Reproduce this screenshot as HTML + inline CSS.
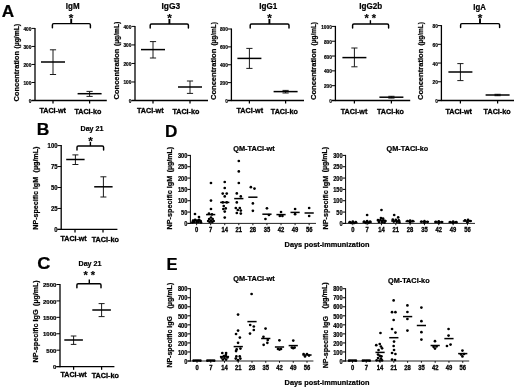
<!DOCTYPE html>
<html><head><meta charset="utf-8"><title>Figure</title>
<style>html,body{margin:0;padding:0;background:#fff}svg{display:block;filter:blur(0.3px)}</style></head><body>
<svg width="520" height="391" viewBox="0 0 520 391" font-family="Liberation Sans, Arial, sans-serif">
<rect width="520" height="391" fill="#fff"/>
<text x="1.8" y="16.6" font-size="16.5" font-weight="bold" text-anchor="start" fill="#000" textLength="12.4" lengthAdjust="spacingAndGlyphs" stroke="#000" stroke-width="0.22">A</text>
<text x="36.8" y="134.6" font-size="16.5" font-weight="bold" text-anchor="start" fill="#000" textLength="12.6" lengthAdjust="spacingAndGlyphs" stroke="#000" stroke-width="0.22">B</text>
<text x="37.2" y="269.4" font-size="16.5" font-weight="bold" text-anchor="start" fill="#000" textLength="13.2" lengthAdjust="spacingAndGlyphs" stroke="#000" stroke-width="0.22">C</text>
<text x="165" y="137" font-size="16.5" font-weight="bold" text-anchor="start" fill="#000" textLength="12.4" lengthAdjust="spacingAndGlyphs" stroke="#000" stroke-width="0.22">D</text>
<text x="166.6" y="269.6" font-size="16.5" font-weight="bold" text-anchor="start" fill="#000" stroke="#000" stroke-width="0.22">E</text>
<line x1="35" y1="27.9" x2="35" y2="101.1" stroke="#000" stroke-width="1.3"/>
<line x1="31.5" y1="100.5" x2="106.8" y2="100.5" stroke="#000" stroke-width="1.3"/>
<line x1="31.5" y1="100.5" x2="35" y2="100.5" stroke="#000" stroke-width="1.0"/>
<text x="31.4" y="102.99" font-size="5.8" font-weight="bold" text-anchor="end" fill="#000" textLength="2.64" lengthAdjust="spacingAndGlyphs" stroke="#000" stroke-width="0.22">0</text>
<line x1="31.5" y1="82.475" x2="35" y2="82.475" stroke="#000" stroke-width="1.0"/>
<text x="31.4" y="84.96" font-size="5.8" font-weight="bold" text-anchor="end" fill="#000" textLength="7.92" lengthAdjust="spacingAndGlyphs" stroke="#000" stroke-width="0.22">100</text>
<line x1="31.5" y1="64.45" x2="35" y2="64.45" stroke="#000" stroke-width="1.0"/>
<text x="31.4" y="66.94" font-size="5.8" font-weight="bold" text-anchor="end" fill="#000" textLength="7.92" lengthAdjust="spacingAndGlyphs" stroke="#000" stroke-width="0.22">200</text>
<line x1="31.5" y1="46.425000000000004" x2="35" y2="46.425000000000004" stroke="#000" stroke-width="1.0"/>
<text x="31.4" y="48.91" font-size="5.8" font-weight="bold" text-anchor="end" fill="#000" textLength="7.92" lengthAdjust="spacingAndGlyphs" stroke="#000" stroke-width="0.22">300</text>
<line x1="31.5" y1="28.400000000000006" x2="35" y2="28.400000000000006" stroke="#000" stroke-width="1.0"/>
<text x="31.4" y="30.89" font-size="5.8" font-weight="bold" text-anchor="end" fill="#000" textLength="7.92" lengthAdjust="spacingAndGlyphs" stroke="#000" stroke-width="0.22">400</text>
<line x1="53" y1="100.5" x2="53" y2="103.5" stroke="#000" stroke-width="1.25"/>
<line x1="89.6" y1="100.5" x2="89.6" y2="103.5" stroke="#000" stroke-width="1.25"/>
<text x="72.7" y="8.8" font-size="8.6" font-weight="bold" text-anchor="middle" fill="#000" textLength="13.7" lengthAdjust="spacingAndGlyphs" stroke="#000" stroke-width="0.22">IgM</text>
<text x="71" y="22.4" font-size="11.8" font-weight="bold" text-anchor="middle" fill="#000" stroke="#000" stroke-width="0.15">*</text>
<path d="M52.4 27.8V24.9Q52.4 23.6 53.7 23.6H89.1Q90.4 23.6 90.4 24.9V27.8" fill="none" stroke="#000" stroke-width="1.45" stroke-linecap="round"/>
<path d="M71.2 23.6V18.8" fill="none" stroke="#000" stroke-width="1.9"/>
<line x1="53" y1="49.8" x2="53" y2="74.5" stroke="#1a1a1a" stroke-width="1.0"/>
<line x1="49.9" y1="49.8" x2="56.1" y2="49.8" stroke="#1a1a1a" stroke-width="1.0"/>
<line x1="49.9" y1="74.5" x2="56.1" y2="74.5" stroke="#1a1a1a" stroke-width="1.0"/>
<line x1="41" y1="62" x2="65" y2="62" stroke="#000" stroke-width="1.5"/>
<line x1="89.6" y1="91.4" x2="89.6" y2="96.4" stroke="#1a1a1a" stroke-width="1.0"/>
<line x1="86.5" y1="91.4" x2="92.69999999999999" y2="91.4" stroke="#1a1a1a" stroke-width="1.0"/>
<line x1="86.5" y1="96.4" x2="92.69999999999999" y2="96.4" stroke="#1a1a1a" stroke-width="1.0"/>
<line x1="77.6" y1="93.7" x2="101.6" y2="93.7" stroke="#000" stroke-width="1.5"/>
<text transform="translate(19.2 76.2) rotate(-90)" font-size="7" font-weight="bold" text-anchor="middle" stroke="#000" stroke-width="0.22" textLength="50.5" lengthAdjust="spacingAndGlyphs">Concentration</text>
<text transform="translate(19.0 36.2) rotate(-90)" font-size="6.7" font-weight="bold" text-anchor="middle" stroke="#000" stroke-width="0.22" textLength="24.5" lengthAdjust="spacingAndGlyphs">(µg/mL)</text>
<text x="52.7" y="112.6" font-size="7" font-weight="bold" text-anchor="middle" fill="#000" textLength="26.6" lengthAdjust="spacingAndGlyphs" stroke="#000" stroke-width="0.3">TACI-wt</text>
<text x="87.9" y="113.6" font-size="7" font-weight="bold" text-anchor="middle" fill="#000" textLength="27" lengthAdjust="spacingAndGlyphs" stroke="#000" stroke-width="0.3">TACI-ko</text>
<line x1="135" y1="25.9" x2="135" y2="101.1" stroke="#000" stroke-width="1.3"/>
<line x1="131.5" y1="100.5" x2="208" y2="100.5" stroke="#000" stroke-width="1.3"/>
<line x1="131.5" y1="100.5" x2="135" y2="100.5" stroke="#000" stroke-width="1.0"/>
<text x="131.4" y="102.99" font-size="5.8" font-weight="bold" text-anchor="end" fill="#000" textLength="2.64" lengthAdjust="spacingAndGlyphs" stroke="#000" stroke-width="0.22">0</text>
<line x1="131.5" y1="81.975" x2="135" y2="81.975" stroke="#000" stroke-width="1.0"/>
<text x="131.4" y="84.46" font-size="5.8" font-weight="bold" text-anchor="end" fill="#000" textLength="7.92" lengthAdjust="spacingAndGlyphs" stroke="#000" stroke-width="0.22">100</text>
<line x1="131.5" y1="63.45" x2="135" y2="63.45" stroke="#000" stroke-width="1.0"/>
<text x="131.4" y="65.94" font-size="5.8" font-weight="bold" text-anchor="end" fill="#000" textLength="7.92" lengthAdjust="spacingAndGlyphs" stroke="#000" stroke-width="0.22">200</text>
<line x1="131.5" y1="44.925000000000004" x2="135" y2="44.925000000000004" stroke="#000" stroke-width="1.0"/>
<text x="131.4" y="47.41" font-size="5.8" font-weight="bold" text-anchor="end" fill="#000" textLength="7.92" lengthAdjust="spacingAndGlyphs" stroke="#000" stroke-width="0.22">300</text>
<line x1="131.5" y1="26.400000000000006" x2="135" y2="26.400000000000006" stroke="#000" stroke-width="1.0"/>
<text x="131.4" y="28.89" font-size="5.8" font-weight="bold" text-anchor="end" fill="#000" textLength="7.92" lengthAdjust="spacingAndGlyphs" stroke="#000" stroke-width="0.22">400</text>
<line x1="153" y1="100.5" x2="153" y2="103.5" stroke="#000" stroke-width="1.25"/>
<line x1="190" y1="100.5" x2="190" y2="103.5" stroke="#000" stroke-width="1.25"/>
<text x="170.8" y="8.8" font-size="8.6" font-weight="bold" text-anchor="middle" fill="#000" textLength="18.7" lengthAdjust="spacingAndGlyphs" stroke="#000" stroke-width="0.22">IgG3</text>
<text x="169.6" y="22.4" font-size="11.8" font-weight="bold" text-anchor="middle" fill="#000" stroke="#000" stroke-width="0.15">*</text>
<path d="M150.2 28V25.3Q150.2 24 151.5 24H187.1Q188.4 24 188.4 25.3V28" fill="none" stroke="#000" stroke-width="1.45" stroke-linecap="round"/>
<path d="M169.4 24V19" fill="none" stroke="#000" stroke-width="1.9"/>
<line x1="153" y1="41.6" x2="153" y2="58" stroke="#1a1a1a" stroke-width="1.0"/>
<line x1="149.9" y1="41.6" x2="156.1" y2="41.6" stroke="#1a1a1a" stroke-width="1.0"/>
<line x1="149.9" y1="58" x2="156.1" y2="58" stroke="#1a1a1a" stroke-width="1.0"/>
<line x1="141" y1="49.6" x2="165" y2="49.6" stroke="#000" stroke-width="1.5"/>
<line x1="190" y1="81" x2="190" y2="93.4" stroke="#1a1a1a" stroke-width="1.0"/>
<line x1="186.9" y1="81" x2="193.1" y2="81" stroke="#1a1a1a" stroke-width="1.0"/>
<line x1="186.9" y1="93.4" x2="193.1" y2="93.4" stroke="#1a1a1a" stroke-width="1.0"/>
<line x1="178" y1="87" x2="202" y2="87" stroke="#000" stroke-width="1.5"/>
<text transform="translate(118.8 74.0) rotate(-90)" font-size="7" font-weight="bold" text-anchor="middle" stroke="#000" stroke-width="0.22" textLength="50.8" lengthAdjust="spacingAndGlyphs">Concentration</text>
<text transform="translate(118.6 33.9) rotate(-90)" font-size="6.7" font-weight="bold" text-anchor="middle" stroke="#000" stroke-width="0.22" textLength="24.2" lengthAdjust="spacingAndGlyphs">(µg/mL)</text>
<text x="150.3" y="112.6" font-size="7" font-weight="bold" text-anchor="middle" fill="#000" textLength="26.6" lengthAdjust="spacingAndGlyphs" stroke="#000" stroke-width="0.3">TACI-wt</text>
<text x="185.9" y="113.6" font-size="7" font-weight="bold" text-anchor="middle" fill="#000" textLength="27" lengthAdjust="spacingAndGlyphs" stroke="#000" stroke-width="0.3">TACI-ko</text>
<line x1="231.4" y1="28.5" x2="231.4" y2="101.1" stroke="#000" stroke-width="1.3"/>
<line x1="227.9" y1="100.5" x2="304" y2="100.5" stroke="#000" stroke-width="1.3"/>
<line x1="227.9" y1="100.5" x2="231.4" y2="100.5" stroke="#000" stroke-width="1.0"/>
<text x="227.8" y="102.99" font-size="5.8" font-weight="bold" text-anchor="end" fill="#000" textLength="2.64" lengthAdjust="spacingAndGlyphs" stroke="#000" stroke-width="0.22">0</text>
<line x1="227.9" y1="82.625" x2="231.4" y2="82.625" stroke="#000" stroke-width="1.0"/>
<text x="227.8" y="85.11" font-size="5.8" font-weight="bold" text-anchor="end" fill="#000" textLength="7.92" lengthAdjust="spacingAndGlyphs" stroke="#000" stroke-width="0.22">200</text>
<line x1="227.9" y1="64.75" x2="231.4" y2="64.75" stroke="#000" stroke-width="1.0"/>
<text x="227.8" y="67.24" font-size="5.8" font-weight="bold" text-anchor="end" fill="#000" textLength="7.92" lengthAdjust="spacingAndGlyphs" stroke="#000" stroke-width="0.22">400</text>
<line x1="227.9" y1="46.875" x2="231.4" y2="46.875" stroke="#000" stroke-width="1.0"/>
<text x="227.8" y="49.36" font-size="5.8" font-weight="bold" text-anchor="end" fill="#000" textLength="7.92" lengthAdjust="spacingAndGlyphs" stroke="#000" stroke-width="0.22">600</text>
<line x1="227.9" y1="29.0" x2="231.4" y2="29.0" stroke="#000" stroke-width="1.0"/>
<text x="227.8" y="31.49" font-size="5.8" font-weight="bold" text-anchor="end" fill="#000" textLength="7.92" lengthAdjust="spacingAndGlyphs" stroke="#000" stroke-width="0.22">800</text>
<line x1="249.4" y1="100.5" x2="249.4" y2="103.5" stroke="#000" stroke-width="1.25"/>
<line x1="285.6" y1="100.5" x2="285.6" y2="103.5" stroke="#000" stroke-width="1.25"/>
<text x="268.2" y="8.8" font-size="8.6" font-weight="bold" text-anchor="middle" fill="#000" textLength="17.9" lengthAdjust="spacingAndGlyphs" stroke="#000" stroke-width="0.22">IgG1</text>
<text x="269.6" y="22.4" font-size="11.8" font-weight="bold" text-anchor="middle" fill="#000" stroke="#000" stroke-width="0.15">*</text>
<path d="M250.2 28V25.3Q250.2 24 251.5 24H287.7Q289 24 289 25.3V28" fill="none" stroke="#000" stroke-width="1.45" stroke-linecap="round"/>
<path d="M269.4 24V19" fill="none" stroke="#000" stroke-width="1.9"/>
<line x1="249.4" y1="48.4" x2="249.4" y2="68.4" stroke="#1a1a1a" stroke-width="1.0"/>
<line x1="246.3" y1="48.4" x2="252.5" y2="48.4" stroke="#1a1a1a" stroke-width="1.0"/>
<line x1="246.3" y1="68.4" x2="252.5" y2="68.4" stroke="#1a1a1a" stroke-width="1.0"/>
<line x1="237.4" y1="58.4" x2="261.4" y2="58.4" stroke="#000" stroke-width="1.5"/>
<line x1="285.6" y1="90.4" x2="285.6" y2="93" stroke="#1a1a1a" stroke-width="1.0"/>
<line x1="282.5" y1="90.4" x2="288.70000000000005" y2="90.4" stroke="#1a1a1a" stroke-width="1.0"/>
<line x1="282.5" y1="93" x2="288.70000000000005" y2="93" stroke="#1a1a1a" stroke-width="1.0"/>
<line x1="273.6" y1="91.6" x2="297.6" y2="91.6" stroke="#000" stroke-width="1.5"/>
<text transform="translate(215.8 74.4) rotate(-90)" font-size="7" font-weight="bold" text-anchor="middle" stroke="#000" stroke-width="0.22" textLength="51.4" lengthAdjust="spacingAndGlyphs">Concentration</text>
<text transform="translate(215.60000000000002 33.8) rotate(-90)" font-size="6.7" font-weight="bold" text-anchor="middle" stroke="#000" stroke-width="0.22" textLength="23.6" lengthAdjust="spacingAndGlyphs">(µg/mL)</text>
<text x="249.8" y="112.6" font-size="7" font-weight="bold" text-anchor="middle" fill="#000" textLength="26.6" lengthAdjust="spacingAndGlyphs" stroke="#000" stroke-width="0.3">TACI-wt</text>
<text x="284.3" y="113.6" font-size="7" font-weight="bold" text-anchor="middle" fill="#000" textLength="27" lengthAdjust="spacingAndGlyphs" stroke="#000" stroke-width="0.3">TACI-ko</text>
<line x1="335.4" y1="25.9" x2="335.4" y2="101.1" stroke="#000" stroke-width="1.3"/>
<line x1="331.9" y1="100.5" x2="410.2" y2="100.5" stroke="#000" stroke-width="1.3"/>
<line x1="331.9" y1="100.5" x2="335.4" y2="100.5" stroke="#000" stroke-width="1.0"/>
<text x="331.79999999999995" y="102.99" font-size="5.8" font-weight="bold" text-anchor="end" fill="#000" textLength="2.64" lengthAdjust="spacingAndGlyphs" stroke="#000" stroke-width="0.22">0</text>
<line x1="331.9" y1="85.68" x2="335.4" y2="85.68" stroke="#000" stroke-width="1.0"/>
<text x="331.79999999999995" y="88.17" font-size="5.8" font-weight="bold" text-anchor="end" fill="#000" textLength="7.92" lengthAdjust="spacingAndGlyphs" stroke="#000" stroke-width="0.22">200</text>
<line x1="331.9" y1="70.86" x2="335.4" y2="70.86" stroke="#000" stroke-width="1.0"/>
<text x="331.79999999999995" y="73.35" font-size="5.8" font-weight="bold" text-anchor="end" fill="#000" textLength="7.92" lengthAdjust="spacingAndGlyphs" stroke="#000" stroke-width="0.22">400</text>
<line x1="331.9" y1="56.040000000000006" x2="335.4" y2="56.040000000000006" stroke="#000" stroke-width="1.0"/>
<text x="331.79999999999995" y="58.53" font-size="5.8" font-weight="bold" text-anchor="end" fill="#000" textLength="7.92" lengthAdjust="spacingAndGlyphs" stroke="#000" stroke-width="0.22">600</text>
<line x1="331.9" y1="41.220000000000006" x2="335.4" y2="41.220000000000006" stroke="#000" stroke-width="1.0"/>
<text x="331.79999999999995" y="43.71" font-size="5.8" font-weight="bold" text-anchor="end" fill="#000" textLength="7.92" lengthAdjust="spacingAndGlyphs" stroke="#000" stroke-width="0.22">800</text>
<line x1="331.9" y1="26.400000000000006" x2="335.4" y2="26.400000000000006" stroke="#000" stroke-width="1.0"/>
<text x="331.79999999999995" y="28.89" font-size="5.8" font-weight="bold" text-anchor="end" fill="#000" textLength="10.56" lengthAdjust="spacingAndGlyphs" stroke="#000" stroke-width="0.22">1000</text>
<line x1="354.4" y1="100.5" x2="354.4" y2="103.5" stroke="#000" stroke-width="1.25"/>
<line x1="391.4" y1="100.5" x2="391.4" y2="103.5" stroke="#000" stroke-width="1.25"/>
<text x="370.7" y="8.8" font-size="8.6" font-weight="bold" text-anchor="middle" fill="#000" textLength="22.9" lengthAdjust="spacingAndGlyphs" stroke="#000" stroke-width="0.22">IgG2b</text>
<text x="366.7" y="21.5" font-size="11" font-weight="bold" text-anchor="middle" fill="#000" stroke="#000" stroke-width="0.15">*</text>
<text x="373.9" y="21.5" font-size="11" font-weight="bold" text-anchor="middle" fill="#000" stroke="#000" stroke-width="0.15">*</text>
<path d="M352.6 28V25.3Q352.6 24 353.9 24H387.3Q388.6 24 388.6 25.3V28" fill="none" stroke="#000" stroke-width="1.45" stroke-linecap="round"/>
<path d="M370.4 24V20.2" fill="none" stroke="#000" stroke-width="1.4"/>
<line x1="354.4" y1="48" x2="354.4" y2="66.8" stroke="#1a1a1a" stroke-width="1.0"/>
<line x1="351.29999999999995" y1="48" x2="357.5" y2="48" stroke="#1a1a1a" stroke-width="1.0"/>
<line x1="351.29999999999995" y1="66.8" x2="357.5" y2="66.8" stroke="#1a1a1a" stroke-width="1.0"/>
<line x1="342.4" y1="57.6" x2="366.4" y2="57.6" stroke="#000" stroke-width="1.5"/>
<line x1="391.4" y1="96.3" x2="391.4" y2="98.1" stroke="#1a1a1a" stroke-width="1.0"/>
<line x1="388.29999999999995" y1="96.3" x2="394.5" y2="96.3" stroke="#1a1a1a" stroke-width="1.0"/>
<line x1="388.29999999999995" y1="98.1" x2="394.5" y2="98.1" stroke="#1a1a1a" stroke-width="1.0"/>
<line x1="379.4" y1="97.2" x2="403.4" y2="97.2" stroke="#000" stroke-width="1.5"/>
<text transform="translate(316 74.3) rotate(-90)" font-size="7" font-weight="bold" text-anchor="middle" stroke="#000" stroke-width="0.22" textLength="51.6" lengthAdjust="spacingAndGlyphs">Concentration</text>
<text transform="translate(315.8 33.7) rotate(-90)" font-size="6.7" font-weight="bold" text-anchor="middle" stroke="#000" stroke-width="0.22" textLength="23.4" lengthAdjust="spacingAndGlyphs">(µg/mL)</text>
<text x="354" y="113.6" font-size="7" font-weight="bold" text-anchor="middle" fill="#000" textLength="26.6" lengthAdjust="spacingAndGlyphs" stroke="#000" stroke-width="0.3">TACI-wt</text>
<text x="390.5" y="113.6" font-size="7" font-weight="bold" text-anchor="middle" fill="#000" textLength="27" lengthAdjust="spacingAndGlyphs" stroke="#000" stroke-width="0.3">TACI-ko</text>
<line x1="441.4" y1="25.1" x2="441.4" y2="101.1" stroke="#000" stroke-width="1.3"/>
<line x1="437.9" y1="100.5" x2="514" y2="100.5" stroke="#000" stroke-width="1.3"/>
<line x1="437.9" y1="100.5" x2="441.4" y2="100.5" stroke="#000" stroke-width="1.0"/>
<text x="437.79999999999995" y="102.99" font-size="5.8" font-weight="bold" text-anchor="end" fill="#000" textLength="2.64" lengthAdjust="spacingAndGlyphs" stroke="#000" stroke-width="0.22">0</text>
<line x1="437.9" y1="81.775" x2="441.4" y2="81.775" stroke="#000" stroke-width="1.0"/>
<text x="437.79999999999995" y="84.26" font-size="5.8" font-weight="bold" text-anchor="end" fill="#000" textLength="5.28" lengthAdjust="spacingAndGlyphs" stroke="#000" stroke-width="0.22">20</text>
<line x1="437.9" y1="63.05" x2="441.4" y2="63.05" stroke="#000" stroke-width="1.0"/>
<text x="437.79999999999995" y="65.54" font-size="5.8" font-weight="bold" text-anchor="end" fill="#000" textLength="5.28" lengthAdjust="spacingAndGlyphs" stroke="#000" stroke-width="0.22">40</text>
<line x1="437.9" y1="44.324999999999996" x2="441.4" y2="44.324999999999996" stroke="#000" stroke-width="1.0"/>
<text x="437.79999999999995" y="46.81" font-size="5.8" font-weight="bold" text-anchor="end" fill="#000" textLength="5.28" lengthAdjust="spacingAndGlyphs" stroke="#000" stroke-width="0.22">60</text>
<line x1="437.9" y1="25.599999999999994" x2="441.4" y2="25.599999999999994" stroke="#000" stroke-width="1.0"/>
<text x="437.79999999999995" y="28.09" font-size="5.8" font-weight="bold" text-anchor="end" fill="#000" textLength="5.28" lengthAdjust="spacingAndGlyphs" stroke="#000" stroke-width="0.22">80</text>
<line x1="460.4" y1="100.5" x2="460.4" y2="103.5" stroke="#000" stroke-width="1.25"/>
<line x1="497.6" y1="100.5" x2="497.6" y2="103.5" stroke="#000" stroke-width="1.25"/>
<text x="479.5" y="9.8" font-size="8.6" font-weight="bold" text-anchor="middle" fill="#000" textLength="12.5" lengthAdjust="spacingAndGlyphs" stroke="#000" stroke-width="0.22">IgA</text>
<text x="480" y="22.0" font-size="11.8" font-weight="bold" text-anchor="middle" fill="#000" stroke="#000" stroke-width="0.15">*</text>
<path d="M460.6 27.6V24.9Q460.6 23.6 461.9 23.6H498.3Q499.6 23.6 499.6 24.9V27.6" fill="none" stroke="#000" stroke-width="1.45" stroke-linecap="round"/>
<path d="M480 23.6V18.6" fill="none" stroke="#000" stroke-width="1.9"/>
<line x1="460.4" y1="63.6" x2="460.4" y2="80.6" stroke="#1a1a1a" stroke-width="1.0"/>
<line x1="457.29999999999995" y1="63.6" x2="463.5" y2="63.6" stroke="#1a1a1a" stroke-width="1.0"/>
<line x1="457.29999999999995" y1="80.6" x2="463.5" y2="80.6" stroke="#1a1a1a" stroke-width="1.0"/>
<line x1="448.4" y1="72" x2="472.4" y2="72" stroke="#000" stroke-width="1.5"/>
<line x1="497.6" y1="94.3" x2="497.6" y2="95.7" stroke="#1a1a1a" stroke-width="1.0"/>
<line x1="494.5" y1="94.3" x2="500.70000000000005" y2="94.3" stroke="#1a1a1a" stroke-width="1.0"/>
<line x1="494.5" y1="95.7" x2="500.70000000000005" y2="95.7" stroke="#1a1a1a" stroke-width="1.0"/>
<line x1="485.6" y1="95" x2="509.6" y2="95" stroke="#000" stroke-width="1.5"/>
<text transform="translate(422.8 74.4) rotate(-90)" font-size="7" font-weight="bold" text-anchor="middle" stroke="#000" stroke-width="0.22" textLength="51.4" lengthAdjust="spacingAndGlyphs">Concentration</text>
<text transform="translate(422.6 33.8) rotate(-90)" font-size="6.7" font-weight="bold" text-anchor="middle" stroke="#000" stroke-width="0.22" textLength="23.6" lengthAdjust="spacingAndGlyphs">(µg/mL)</text>
<text x="458.7" y="113.6" font-size="7" font-weight="bold" text-anchor="middle" fill="#000" textLength="26.6" lengthAdjust="spacingAndGlyphs" stroke="#000" stroke-width="0.3">TACI-wt</text>
<text x="497.1" y="113.6" font-size="7" font-weight="bold" text-anchor="middle" fill="#000" textLength="27" lengthAdjust="spacingAndGlyphs" stroke="#000" stroke-width="0.3">TACI-ko</text>
<line x1="61.2" y1="145.1" x2="61.2" y2="230.0" stroke="#000" stroke-width="1.3"/>
<line x1="57.5" y1="229.4" x2="117.4" y2="229.4" stroke="#000" stroke-width="1.3"/>
<line x1="57.5" y1="229.4" x2="61.2" y2="229.4" stroke="#000" stroke-width="1.0"/>
<text x="57.5" y="232.14" font-size="6.5" font-weight="bold" text-anchor="end" fill="#000" textLength="3.3" lengthAdjust="spacingAndGlyphs" stroke="#000" stroke-width="0.22">0</text>
<line x1="57.5" y1="208.45" x2="61.2" y2="208.45" stroke="#000" stroke-width="1.0"/>
<text x="57.5" y="211.19" font-size="6.5" font-weight="bold" text-anchor="end" fill="#000" textLength="6.6" lengthAdjust="spacingAndGlyphs" stroke="#000" stroke-width="0.22">25</text>
<line x1="57.5" y1="187.5" x2="61.2" y2="187.5" stroke="#000" stroke-width="1.0"/>
<text x="57.5" y="190.24" font-size="6.5" font-weight="bold" text-anchor="end" fill="#000" textLength="6.6" lengthAdjust="spacingAndGlyphs" stroke="#000" stroke-width="0.22">50</text>
<line x1="57.5" y1="166.55" x2="61.2" y2="166.55" stroke="#000" stroke-width="1.0"/>
<text x="57.5" y="169.29" font-size="6.5" font-weight="bold" text-anchor="end" fill="#000" textLength="6.6" lengthAdjust="spacingAndGlyphs" stroke="#000" stroke-width="0.22">75</text>
<line x1="57.5" y1="145.6" x2="61.2" y2="145.6" stroke="#000" stroke-width="1.0"/>
<text x="57.5" y="148.34" font-size="6.5" font-weight="bold" text-anchor="end" fill="#000" textLength="9.9" lengthAdjust="spacingAndGlyphs" stroke="#000" stroke-width="0.22">100</text>
<line x1="75" y1="229.4" x2="75" y2="232.6" stroke="#000" stroke-width="1.25"/>
<line x1="103" y1="229.4" x2="103" y2="232.6" stroke="#000" stroke-width="1.25"/>
<text x="92" y="130.7" font-size="7.7" font-weight="bold" text-anchor="middle" fill="#000" textLength="23" lengthAdjust="spacingAndGlyphs" stroke="#000" stroke-width="0.22">Day 21</text>
<text x="90.5" y="144.5" font-size="11.8" font-weight="bold" text-anchor="middle" fill="#000" stroke="#000" stroke-width="0.15">*</text>
<path d="M77 150V147.3Q77 146 78.3 146H102.3Q103.6 146 103.6 147.3V150" fill="none" stroke="#000" stroke-width="1.45" stroke-linecap="round"/>
<path d="M90.4 146V141.8" fill="none" stroke="#000" stroke-width="1.4"/>
<line x1="75.4" y1="154.9" x2="75.4" y2="164.5" stroke="#1a1a1a" stroke-width="1.0"/>
<line x1="72.4" y1="154.9" x2="78.4" y2="154.9" stroke="#1a1a1a" stroke-width="1.0"/>
<line x1="72.4" y1="164.5" x2="78.4" y2="164.5" stroke="#1a1a1a" stroke-width="1.0"/>
<line x1="66.2" y1="159.5" x2="84.60000000000001" y2="159.5" stroke="#000" stroke-width="1.5"/>
<line x1="103.4" y1="176.8" x2="103.4" y2="197" stroke="#1a1a1a" stroke-width="1.0"/>
<line x1="100.4" y1="176.8" x2="106.4" y2="176.8" stroke="#1a1a1a" stroke-width="1.0"/>
<line x1="100.4" y1="197" x2="106.4" y2="197" stroke="#1a1a1a" stroke-width="1.0"/>
<line x1="94.2" y1="186.8" x2="112.60000000000001" y2="186.8" stroke="#000" stroke-width="1.5"/>
<text transform="translate(38.3 203.3) rotate(-90)" font-size="7" font-weight="bold" text-anchor="middle" stroke="#000" stroke-width="0.22" textLength="52.8" lengthAdjust="spacingAndGlyphs">NP-specific IgM</text>
<text transform="translate(38.1 159.5) rotate(-90)" font-size="6.7" font-weight="bold" text-anchor="middle" stroke="#000" stroke-width="0.22" textLength="26" lengthAdjust="spacingAndGlyphs">(µg/mL)</text>
<text x="73.6" y="241" font-size="7" font-weight="bold" text-anchor="middle" fill="#000" textLength="26.3" lengthAdjust="spacingAndGlyphs" stroke="#000" stroke-width="0.3">TACI-wt</text>
<text x="105.3" y="241.6" font-size="7" font-weight="bold" text-anchor="middle" fill="#000" textLength="27.2" lengthAdjust="spacingAndGlyphs" stroke="#000" stroke-width="0.3">TACI-ko</text>
<line x1="60" y1="284.0" x2="60" y2="367.20000000000005" stroke="#000" stroke-width="1.3"/>
<line x1="56.4" y1="366.6" x2="114.4" y2="366.6" stroke="#000" stroke-width="1.3"/>
<line x1="56.4" y1="366.6" x2="60" y2="366.6" stroke="#000" stroke-width="1.0"/>
<text x="56.4" y="369.23" font-size="6.2" font-weight="bold" text-anchor="end" fill="#000" textLength="3.35" lengthAdjust="spacingAndGlyphs" stroke="#000" stroke-width="0.22">0</text>
<line x1="56.4" y1="350.18" x2="60" y2="350.18" stroke="#000" stroke-width="1.0"/>
<text x="56.4" y="352.81" font-size="6.2" font-weight="bold" text-anchor="end" fill="#000" textLength="10.05" lengthAdjust="spacingAndGlyphs" stroke="#000" stroke-width="0.22">500</text>
<line x1="56.4" y1="333.76" x2="60" y2="333.76" stroke="#000" stroke-width="1.0"/>
<text x="56.4" y="336.39" font-size="6.2" font-weight="bold" text-anchor="end" fill="#000" textLength="13.4" lengthAdjust="spacingAndGlyphs" stroke="#000" stroke-width="0.22">1000</text>
<line x1="56.4" y1="317.34000000000003" x2="60" y2="317.34000000000003" stroke="#000" stroke-width="1.0"/>
<text x="56.4" y="319.97" font-size="6.2" font-weight="bold" text-anchor="end" fill="#000" textLength="13.4" lengthAdjust="spacingAndGlyphs" stroke="#000" stroke-width="0.22">1500</text>
<line x1="56.4" y1="300.92" x2="60" y2="300.92" stroke="#000" stroke-width="1.0"/>
<text x="56.4" y="303.55" font-size="6.2" font-weight="bold" text-anchor="end" fill="#000" textLength="13.4" lengthAdjust="spacingAndGlyphs" stroke="#000" stroke-width="0.22">2000</text>
<line x1="56.4" y1="284.5" x2="60" y2="284.5" stroke="#000" stroke-width="1.0"/>
<text x="56.4" y="287.13" font-size="6.2" font-weight="bold" text-anchor="end" fill="#000" textLength="13.4" lengthAdjust="spacingAndGlyphs" stroke="#000" stroke-width="0.22">2500</text>
<line x1="73.6" y1="366.6" x2="73.6" y2="369.8" stroke="#000" stroke-width="1.25"/>
<line x1="101.6" y1="366.6" x2="101.6" y2="369.8" stroke="#000" stroke-width="1.25"/>
<text x="90" y="266" font-size="7.7" font-weight="bold" text-anchor="middle" fill="#000" textLength="23" lengthAdjust="spacingAndGlyphs" stroke="#000" stroke-width="0.22">Day 21</text>
<text x="85.6" y="279.3" font-size="11" font-weight="bold" text-anchor="middle" fill="#000" stroke="#000" stroke-width="0.15">*</text>
<text x="92.8" y="279.3" font-size="11" font-weight="bold" text-anchor="middle" fill="#000" stroke="#000" stroke-width="0.15">*</text>
<path d="M76.9 287.8V285.0Q76.9 283.7 78.2 283.7H99.7Q101 283.7 101 285.0V287.8" fill="none" stroke="#000" stroke-width="1.45" stroke-linecap="round"/>
<path d="M89.3 283.7V279.4" fill="none" stroke="#000" stroke-width="1.4"/>
<line x1="73.6" y1="336" x2="73.6" y2="344.4" stroke="#1a1a1a" stroke-width="1.0"/>
<line x1="70.8" y1="336" x2="76.39999999999999" y2="336" stroke="#1a1a1a" stroke-width="1.0"/>
<line x1="70.8" y1="344.4" x2="76.39999999999999" y2="344.4" stroke="#1a1a1a" stroke-width="1.0"/>
<line x1="64.3" y1="340" x2="82.89999999999999" y2="340" stroke="#000" stroke-width="1.5"/>
<line x1="101.6" y1="303.6" x2="101.6" y2="316.6" stroke="#1a1a1a" stroke-width="1.0"/>
<line x1="98.6" y1="303.6" x2="104.6" y2="303.6" stroke="#1a1a1a" stroke-width="1.0"/>
<line x1="98.6" y1="316.6" x2="104.6" y2="316.6" stroke="#1a1a1a" stroke-width="1.0"/>
<line x1="92.3" y1="310" x2="110.89999999999999" y2="310" stroke="#000" stroke-width="1.5"/>
<text transform="translate(38.3 336) rotate(-90)" font-size="7" font-weight="bold" text-anchor="middle" stroke="#000" stroke-width="0.22" textLength="53" lengthAdjust="spacingAndGlyphs">NP-specific IgG</text>
<text transform="translate(38.1 293.2) rotate(-90)" font-size="6.7" font-weight="bold" text-anchor="middle" stroke="#000" stroke-width="0.22" textLength="25.4" lengthAdjust="spacingAndGlyphs">(µg/mL)</text>
<text x="73.6" y="376.6" font-size="7" font-weight="bold" text-anchor="middle" fill="#000" textLength="26.3" lengthAdjust="spacingAndGlyphs" stroke="#000" stroke-width="0.3">TACI-wt</text>
<text x="105.3" y="377.6" font-size="7" font-weight="bold" text-anchor="middle" fill="#000" textLength="27.2" lengthAdjust="spacingAndGlyphs" stroke="#000" stroke-width="0.3">TACI-ko</text>
<line x1="190.4" y1="154.9" x2="190.4" y2="224.0" stroke="#000" stroke-width="1.0"/>
<line x1="187.5" y1="223.4" x2="316" y2="223.4" stroke="#1a1a1a" stroke-width="0.95"/>
<line x1="187.5" y1="223.4" x2="190.4" y2="223.4" stroke="#000" stroke-width="1.0"/>
<text x="187.4" y="226.1" font-size="6.4" font-weight="bold" text-anchor="end" fill="#000" textLength="3.15" lengthAdjust="spacingAndGlyphs" stroke="#000" stroke-width="0.22">0</text>
<line x1="187.5" y1="212.06666666666666" x2="190.4" y2="212.06666666666666" stroke="#000" stroke-width="1.0"/>
<text x="187.4" y="214.77" font-size="6.4" font-weight="bold" text-anchor="end" fill="#000" textLength="6.3" lengthAdjust="spacingAndGlyphs" stroke="#000" stroke-width="0.22">50</text>
<line x1="187.5" y1="200.73333333333335" x2="190.4" y2="200.73333333333335" stroke="#000" stroke-width="1.0"/>
<text x="187.4" y="203.44" font-size="6.4" font-weight="bold" text-anchor="end" fill="#000" textLength="9.45" lengthAdjust="spacingAndGlyphs" stroke="#000" stroke-width="0.22">100</text>
<line x1="187.5" y1="189.4" x2="190.4" y2="189.4" stroke="#000" stroke-width="1.0"/>
<text x="187.4" y="192.1" font-size="6.4" font-weight="bold" text-anchor="end" fill="#000" textLength="9.45" lengthAdjust="spacingAndGlyphs" stroke="#000" stroke-width="0.22">150</text>
<line x1="187.5" y1="178.06666666666666" x2="190.4" y2="178.06666666666666" stroke="#000" stroke-width="1.0"/>
<text x="187.4" y="180.77" font-size="6.4" font-weight="bold" text-anchor="end" fill="#000" textLength="9.45" lengthAdjust="spacingAndGlyphs" stroke="#000" stroke-width="0.22">200</text>
<line x1="187.5" y1="166.73333333333335" x2="190.4" y2="166.73333333333335" stroke="#000" stroke-width="1.0"/>
<text x="187.4" y="169.44" font-size="6.4" font-weight="bold" text-anchor="end" fill="#000" textLength="9.45" lengthAdjust="spacingAndGlyphs" stroke="#000" stroke-width="0.22">250</text>
<line x1="187.5" y1="155.4" x2="190.4" y2="155.4" stroke="#000" stroke-width="1.0"/>
<text x="187.4" y="158.1" font-size="6.4" font-weight="bold" text-anchor="end" fill="#000" textLength="9.45" lengthAdjust="spacingAndGlyphs" stroke="#000" stroke-width="0.22">300</text>
<line x1="196.6" y1="223.4" x2="196.6" y2="225.20000000000002" stroke="#000" stroke-width="0.9"/>
<text x="196.6" y="231.6" font-size="6.6" font-weight="bold" text-anchor="middle" fill="#000" textLength="3.25" lengthAdjust="spacingAndGlyphs" stroke="#000" stroke-width="0.3">0</text>
<line x1="210.67" y1="223.4" x2="210.67" y2="225.20000000000002" stroke="#000" stroke-width="0.9"/>
<text x="210.67" y="231.6" font-size="6.6" font-weight="bold" text-anchor="middle" fill="#000" textLength="3.25" lengthAdjust="spacingAndGlyphs" stroke="#000" stroke-width="0.3">7</text>
<line x1="224.74" y1="223.4" x2="224.74" y2="225.20000000000002" stroke="#000" stroke-width="0.9"/>
<text x="224.74" y="231.6" font-size="6.6" font-weight="bold" text-anchor="middle" fill="#000" textLength="6.5" lengthAdjust="spacingAndGlyphs" stroke="#000" stroke-width="0.3">14</text>
<line x1="238.81" y1="223.4" x2="238.81" y2="225.20000000000002" stroke="#000" stroke-width="0.9"/>
<text x="238.81" y="231.6" font-size="6.6" font-weight="bold" text-anchor="middle" fill="#000" textLength="6.5" lengthAdjust="spacingAndGlyphs" stroke="#000" stroke-width="0.3">21</text>
<line x1="252.88" y1="223.4" x2="252.88" y2="225.20000000000002" stroke="#000" stroke-width="0.9"/>
<text x="252.88" y="231.6" font-size="6.6" font-weight="bold" text-anchor="middle" fill="#000" textLength="6.5" lengthAdjust="spacingAndGlyphs" stroke="#000" stroke-width="0.3">28</text>
<line x1="266.95" y1="223.4" x2="266.95" y2="225.20000000000002" stroke="#000" stroke-width="0.9"/>
<text x="266.95" y="231.6" font-size="6.6" font-weight="bold" text-anchor="middle" fill="#000" textLength="6.5" lengthAdjust="spacingAndGlyphs" stroke="#000" stroke-width="0.3">35</text>
<line x1="281.02" y1="223.4" x2="281.02" y2="225.20000000000002" stroke="#000" stroke-width="0.9"/>
<text x="281.02" y="231.6" font-size="6.6" font-weight="bold" text-anchor="middle" fill="#000" textLength="6.5" lengthAdjust="spacingAndGlyphs" stroke="#000" stroke-width="0.3">42</text>
<line x1="295.09000000000003" y1="223.4" x2="295.09000000000003" y2="225.20000000000002" stroke="#000" stroke-width="0.9"/>
<text x="295.09" y="231.6" font-size="6.6" font-weight="bold" text-anchor="middle" fill="#000" textLength="6.5" lengthAdjust="spacingAndGlyphs" stroke="#000" stroke-width="0.3">49</text>
<line x1="309.15999999999997" y1="223.4" x2="309.15999999999997" y2="225.20000000000002" stroke="#000" stroke-width="0.9"/>
<text x="309.16" y="231.6" font-size="6.6" font-weight="bold" text-anchor="middle" fill="#000" textLength="6.5" lengthAdjust="spacingAndGlyphs" stroke="#000" stroke-width="0.3">56</text>
<text x="254" y="151.2" font-size="7" font-weight="bold" text-anchor="middle" fill="#000" textLength="41.6" lengthAdjust="spacingAndGlyphs" stroke="#000" stroke-width="0.22">QM-TACI-wt</text>
<text transform="translate(171.7 202.6) rotate(-90)" font-size="7" font-weight="bold" text-anchor="middle" stroke="#000" stroke-width="0.22" textLength="53.7" lengthAdjust="spacingAndGlyphs">NP-specific IgM</text>
<text transform="translate(171.5 159.6) rotate(-90)" font-size="6.7" font-weight="bold" text-anchor="middle" stroke="#000" stroke-width="0.22" textLength="25.4" lengthAdjust="spacingAndGlyphs">(µg/mL)</text>
<line x1="192.0" y1="220.6" x2="201.2" y2="220.6" stroke="#000" stroke-width="1.5"/>
<circle cx="195.0" cy="214" r="1.35"/>
<circle cx="199.0" cy="217" r="1.35"/>
<circle cx="193.1" cy="220.6" r="1.35"/>
<circle cx="195.1" cy="219.8" r="1.35"/>
<circle cx="197.1" cy="220.6" r="1.35"/>
<circle cx="199.1" cy="219.8" r="1.35"/>
<circle cx="200.6" cy="221" r="1.35"/>
<circle cx="194.1" cy="222" r="1.35"/>
<circle cx="196.6" cy="222.2" r="1.35"/>
<circle cx="198.6" cy="222" r="1.35"/>
<circle cx="192.4" cy="222.4" r="1.35"/>
<circle cx="201.0" cy="222.4" r="1.35"/>
<line x1="206.07" y1="214.6" x2="215.27" y2="214.6" stroke="#000" stroke-width="1.5"/>
<circle cx="210.97" cy="183" r="1.35"/>
<circle cx="210.97" cy="200.6" r="1.35"/>
<circle cx="210.97" cy="209" r="1.35"/>
<circle cx="208.97" cy="213.6" r="1.35"/>
<circle cx="211.97" cy="214.4" r="1.35"/>
<circle cx="210.97" cy="217.5" r="1.35"/>
<circle cx="209.17" cy="219" r="1.35"/>
<circle cx="212.67" cy="219" r="1.35"/>
<circle cx="208.17" cy="221" r="1.35"/>
<circle cx="210.97" cy="220.5" r="1.35"/>
<circle cx="213.67" cy="221" r="1.35"/>
<circle cx="209.67" cy="222" r="1.35"/>
<circle cx="212.27" cy="222" r="1.35"/>
<line x1="220.14" y1="202.4" x2="229.34" y2="202.4" stroke="#000" stroke-width="1.5"/>
<circle cx="224.74" cy="182" r="1.35"/>
<circle cx="224.74" cy="188" r="1.35"/>
<circle cx="222.74" cy="193.6" r="1.35"/>
<circle cx="226.74" cy="193.6" r="1.35"/>
<circle cx="224.74" cy="196.4" r="1.35"/>
<circle cx="222.74" cy="202.4" r="1.35"/>
<circle cx="226.74" cy="202.4" r="1.35"/>
<circle cx="223.74" cy="206" r="1.35"/>
<circle cx="225.74" cy="208.4" r="1.35"/>
<circle cx="223.34" cy="209" r="1.35"/>
<circle cx="224.74" cy="211.6" r="1.35"/>
<circle cx="224.74" cy="217.6" r="1.35"/>
<line x1="234.21" y1="198.6" x2="243.41" y2="198.6" stroke="#000" stroke-width="1.5"/>
<circle cx="238.81" cy="161" r="1.35"/>
<circle cx="238.81" cy="171.4" r="1.35"/>
<circle cx="238.81" cy="183" r="1.35"/>
<circle cx="236.81" cy="193.4" r="1.35"/>
<circle cx="240.81" cy="196.4" r="1.35"/>
<circle cx="236.81" cy="202.4" r="1.35"/>
<circle cx="235.81" cy="208" r="1.35"/>
<circle cx="239.81" cy="208" r="1.35"/>
<circle cx="237.81" cy="210" r="1.35"/>
<circle cx="240.81" cy="210.6" r="1.35"/>
<circle cx="236.81" cy="213" r="1.35"/>
<circle cx="240.81" cy="213.6" r="1.35"/>
<line x1="248.28" y1="197.2" x2="257.48" y2="197.2" stroke="#000" stroke-width="1.5"/>
<circle cx="250.88" cy="187.2" r="1.35"/>
<circle cx="254.48" cy="188.6" r="1.35"/>
<circle cx="252.88" cy="203.4" r="1.35"/>
<circle cx="252.88" cy="210.8" r="1.35"/>
<line x1="262.35" y1="214.2" x2="271.55" y2="214.2" stroke="#000" stroke-width="1.5"/>
<circle cx="266.95" cy="208.3" r="1.35"/>
<circle cx="268.95" cy="215" r="1.35"/>
<circle cx="265.45" cy="219" r="1.35"/>
<line x1="276.42" y1="214.6" x2="285.62" y2="214.6" stroke="#000" stroke-width="1.5"/>
<circle cx="281.02" cy="212" r="1.35"/>
<circle cx="279.82" cy="216" r="1.35"/>
<circle cx="282.42" cy="216" r="1.35"/>
<line x1="290.49" y1="212.4" x2="299.69" y2="212.4" stroke="#000" stroke-width="1.5"/>
<circle cx="295.09" cy="209" r="1.35"/>
<circle cx="295.09" cy="214.2" r="1.35"/>
<line x1="304.56" y1="213" x2="313.76" y2="213" stroke="#000" stroke-width="1.5"/>
<circle cx="309.16" cy="208" r="1.35"/>
<circle cx="309.16" cy="216" r="1.35"/>
<line x1="345.6" y1="154.9" x2="345.6" y2="224.0" stroke="#000" stroke-width="1.0"/>
<line x1="342.70000000000005" y1="223.4" x2="475" y2="223.4" stroke="#1a1a1a" stroke-width="0.95"/>
<line x1="342.70000000000005" y1="223.4" x2="345.6" y2="223.4" stroke="#000" stroke-width="1.0"/>
<text x="342.6" y="226.1" font-size="6.4" font-weight="bold" text-anchor="end" fill="#000" textLength="3.15" lengthAdjust="spacingAndGlyphs" stroke="#000" stroke-width="0.22">0</text>
<line x1="342.70000000000005" y1="212.06666666666666" x2="345.6" y2="212.06666666666666" stroke="#000" stroke-width="1.0"/>
<text x="342.6" y="214.77" font-size="6.4" font-weight="bold" text-anchor="end" fill="#000" textLength="6.3" lengthAdjust="spacingAndGlyphs" stroke="#000" stroke-width="0.22">50</text>
<line x1="342.70000000000005" y1="200.73333333333335" x2="345.6" y2="200.73333333333335" stroke="#000" stroke-width="1.0"/>
<text x="342.6" y="203.44" font-size="6.4" font-weight="bold" text-anchor="end" fill="#000" textLength="9.45" lengthAdjust="spacingAndGlyphs" stroke="#000" stroke-width="0.22">100</text>
<line x1="342.70000000000005" y1="189.4" x2="345.6" y2="189.4" stroke="#000" stroke-width="1.0"/>
<text x="342.6" y="192.1" font-size="6.4" font-weight="bold" text-anchor="end" fill="#000" textLength="9.45" lengthAdjust="spacingAndGlyphs" stroke="#000" stroke-width="0.22">150</text>
<line x1="342.70000000000005" y1="178.06666666666666" x2="345.6" y2="178.06666666666666" stroke="#000" stroke-width="1.0"/>
<text x="342.6" y="180.77" font-size="6.4" font-weight="bold" text-anchor="end" fill="#000" textLength="9.45" lengthAdjust="spacingAndGlyphs" stroke="#000" stroke-width="0.22">200</text>
<line x1="342.70000000000005" y1="166.73333333333335" x2="345.6" y2="166.73333333333335" stroke="#000" stroke-width="1.0"/>
<text x="342.6" y="169.44" font-size="6.4" font-weight="bold" text-anchor="end" fill="#000" textLength="9.45" lengthAdjust="spacingAndGlyphs" stroke="#000" stroke-width="0.22">250</text>
<line x1="342.70000000000005" y1="155.4" x2="345.6" y2="155.4" stroke="#000" stroke-width="1.0"/>
<text x="342.6" y="158.1" font-size="6.4" font-weight="bold" text-anchor="end" fill="#000" textLength="9.45" lengthAdjust="spacingAndGlyphs" stroke="#000" stroke-width="0.22">300</text>
<line x1="352.8" y1="223.4" x2="352.8" y2="225.20000000000002" stroke="#000" stroke-width="0.9"/>
<text x="352.8" y="231.6" font-size="6.6" font-weight="bold" text-anchor="middle" fill="#000" textLength="3.25" lengthAdjust="spacingAndGlyphs" stroke="#000" stroke-width="0.3">0</text>
<line x1="367.13" y1="223.4" x2="367.13" y2="225.20000000000002" stroke="#000" stroke-width="0.9"/>
<text x="367.13" y="231.6" font-size="6.6" font-weight="bold" text-anchor="middle" fill="#000" textLength="3.25" lengthAdjust="spacingAndGlyphs" stroke="#000" stroke-width="0.3">7</text>
<line x1="381.46000000000004" y1="223.4" x2="381.46000000000004" y2="225.20000000000002" stroke="#000" stroke-width="0.9"/>
<text x="381.46" y="231.6" font-size="6.6" font-weight="bold" text-anchor="middle" fill="#000" textLength="6.5" lengthAdjust="spacingAndGlyphs" stroke="#000" stroke-width="0.3">14</text>
<line x1="395.79" y1="223.4" x2="395.79" y2="225.20000000000002" stroke="#000" stroke-width="0.9"/>
<text x="395.79" y="231.6" font-size="6.6" font-weight="bold" text-anchor="middle" fill="#000" textLength="6.5" lengthAdjust="spacingAndGlyphs" stroke="#000" stroke-width="0.3">21</text>
<line x1="410.12" y1="223.4" x2="410.12" y2="225.20000000000002" stroke="#000" stroke-width="0.9"/>
<text x="410.12" y="231.6" font-size="6.6" font-weight="bold" text-anchor="middle" fill="#000" textLength="6.5" lengthAdjust="spacingAndGlyphs" stroke="#000" stroke-width="0.3">28</text>
<line x1="424.45000000000005" y1="223.4" x2="424.45000000000005" y2="225.20000000000002" stroke="#000" stroke-width="0.9"/>
<text x="424.45" y="231.6" font-size="6.6" font-weight="bold" text-anchor="middle" fill="#000" textLength="6.5" lengthAdjust="spacingAndGlyphs" stroke="#000" stroke-width="0.3">35</text>
<line x1="438.78000000000003" y1="223.4" x2="438.78000000000003" y2="225.20000000000002" stroke="#000" stroke-width="0.9"/>
<text x="438.78" y="231.6" font-size="6.6" font-weight="bold" text-anchor="middle" fill="#000" textLength="6.5" lengthAdjust="spacingAndGlyphs" stroke="#000" stroke-width="0.3">42</text>
<line x1="453.11" y1="223.4" x2="453.11" y2="225.20000000000002" stroke="#000" stroke-width="0.9"/>
<text x="453.11" y="231.6" font-size="6.6" font-weight="bold" text-anchor="middle" fill="#000" textLength="6.5" lengthAdjust="spacingAndGlyphs" stroke="#000" stroke-width="0.3">49</text>
<line x1="467.44" y1="223.4" x2="467.44" y2="225.20000000000002" stroke="#000" stroke-width="0.9"/>
<text x="467.44" y="231.6" font-size="6.6" font-weight="bold" text-anchor="middle" fill="#000" textLength="6.5" lengthAdjust="spacingAndGlyphs" stroke="#000" stroke-width="0.3">56</text>
<text x="407.4" y="151.2" font-size="7" font-weight="bold" text-anchor="middle" fill="#000" textLength="41.6" lengthAdjust="spacingAndGlyphs" stroke="#000" stroke-width="0.22">QM-TACI-ko</text>
<text transform="translate(327.5 202.6) rotate(-90)" font-size="7" font-weight="bold" text-anchor="middle" stroke="#000" stroke-width="0.22" textLength="53.7" lengthAdjust="spacingAndGlyphs">NP-specific IgM</text>
<text transform="translate(327.3 159.6) rotate(-90)" font-size="6.7" font-weight="bold" text-anchor="middle" stroke="#000" stroke-width="0.22" textLength="25.4" lengthAdjust="spacingAndGlyphs">(µg/mL)</text>
<line x1="348.2" y1="222.6" x2="357.4" y2="222.6" stroke="#000" stroke-width="1.5"/>
<circle cx="349.8" cy="222" r="1.35"/>
<circle cx="352.8" cy="221.6" r="1.35"/>
<circle cx="355.8" cy="222.2" r="1.35"/>
<circle cx="351.3" cy="223" r="1.35"/>
<circle cx="354.3" cy="223" r="1.35"/>
<line x1="362.53" y1="222.2" x2="371.73" y2="222.2" stroke="#000" stroke-width="1.5"/>
<circle cx="367.13" cy="215" r="1.35"/>
<circle cx="364.13" cy="221.5" r="1.35"/>
<circle cx="367.13" cy="221" r="1.35"/>
<circle cx="370.13" cy="221.6" r="1.35"/>
<circle cx="365.63" cy="222.8" r="1.35"/>
<circle cx="368.63" cy="222.8" r="1.35"/>
<line x1="376.86" y1="220.6" x2="386.06" y2="220.6" stroke="#000" stroke-width="1.5"/>
<circle cx="381.46" cy="210" r="1.35"/>
<circle cx="380.96" cy="218" r="1.35"/>
<circle cx="383.06" cy="218.6" r="1.35"/>
<circle cx="377.96" cy="220" r="1.35"/>
<circle cx="380.46" cy="220" r="1.35"/>
<circle cx="383.46" cy="220.4" r="1.35"/>
<circle cx="385.46" cy="221" r="1.35"/>
<circle cx="378.96" cy="222" r="1.35"/>
<circle cx="381.96" cy="222.2" r="1.35"/>
<circle cx="384.46" cy="222.6" r="1.35"/>
<line x1="391.19" y1="221" x2="400.39" y2="221" stroke="#000" stroke-width="1.5"/>
<circle cx="394.19" cy="215" r="1.35"/>
<circle cx="398.19" cy="217.4" r="1.35"/>
<circle cx="392.79" cy="219.6" r="1.35"/>
<circle cx="395.79" cy="219.8" r="1.35"/>
<circle cx="398.79" cy="220.4" r="1.35"/>
<circle cx="393.79" cy="221.6" r="1.35"/>
<circle cx="396.79" cy="221.8" r="1.35"/>
<circle cx="399.39" cy="222.4" r="1.35"/>
<line x1="405.52" y1="221.4" x2="414.72" y2="221.4" stroke="#000" stroke-width="1.5"/>
<circle cx="407.52" cy="221" r="1.35"/>
<circle cx="410.12" cy="220.6" r="1.35"/>
<circle cx="412.72" cy="221.2" r="1.35"/>
<circle cx="410.12" cy="222.4" r="1.35"/>
<line x1="419.85" y1="221.8" x2="429.05" y2="221.8" stroke="#000" stroke-width="1.5"/>
<circle cx="421.45" cy="221.6" r="1.35"/>
<circle cx="424.45" cy="221.2" r="1.35"/>
<circle cx="427.45" cy="221.8" r="1.35"/>
<circle cx="424.45" cy="222.8" r="1.35"/>
<line x1="434.18" y1="222" x2="443.38" y2="222" stroke="#000" stroke-width="1.5"/>
<circle cx="435.78" cy="221.8" r="1.35"/>
<circle cx="438.78" cy="221.4" r="1.35"/>
<circle cx="441.78" cy="222" r="1.35"/>
<circle cx="438.78" cy="223" r="1.35"/>
<line x1="448.51" y1="222.2" x2="457.71" y2="222.2" stroke="#000" stroke-width="1.5"/>
<circle cx="450.11" cy="222" r="1.35"/>
<circle cx="453.11" cy="221.6" r="1.35"/>
<circle cx="456.11" cy="222.2" r="1.35"/>
<circle cx="453.11" cy="223" r="1.35"/>
<line x1="462.84" y1="221" x2="472.04" y2="221" stroke="#000" stroke-width="1.5"/>
<circle cx="465.04" cy="220.4" r="1.35"/>
<circle cx="468.04" cy="219.8" r="1.35"/>
<circle cx="470.24" cy="221" r="1.35"/>
<circle cx="467.44" cy="222.2" r="1.35"/>
<text x="327" y="247" font-size="7.3" font-weight="bold" text-anchor="middle" fill="#000" textLength="84.8" lengthAdjust="spacingAndGlyphs" stroke="#000" stroke-width="0.22">Days post-immunization</text>
<line x1="190.4" y1="288.2" x2="190.4" y2="361.6" stroke="#000" stroke-width="1.0"/>
<line x1="187.5" y1="361" x2="313.4" y2="361" stroke="#1a1a1a" stroke-width="0.95"/>
<line x1="187.5" y1="361.0" x2="190.4" y2="361.0" stroke="#000" stroke-width="1.0"/>
<text x="187.4" y="363.7" font-size="6.4" font-weight="bold" text-anchor="end" fill="#000" textLength="3.15" lengthAdjust="spacingAndGlyphs" stroke="#000" stroke-width="0.22">0</text>
<line x1="187.5" y1="351.9625" x2="190.4" y2="351.9625" stroke="#000" stroke-width="1.0"/>
<text x="187.4" y="354.67" font-size="6.4" font-weight="bold" text-anchor="end" fill="#000" textLength="9.45" lengthAdjust="spacingAndGlyphs" stroke="#000" stroke-width="0.22">100</text>
<line x1="187.5" y1="342.925" x2="190.4" y2="342.925" stroke="#000" stroke-width="1.0"/>
<text x="187.4" y="345.63" font-size="6.4" font-weight="bold" text-anchor="end" fill="#000" textLength="9.45" lengthAdjust="spacingAndGlyphs" stroke="#000" stroke-width="0.22">200</text>
<line x1="187.5" y1="333.8875" x2="190.4" y2="333.8875" stroke="#000" stroke-width="1.0"/>
<text x="187.4" y="336.59" font-size="6.4" font-weight="bold" text-anchor="end" fill="#000" textLength="9.45" lengthAdjust="spacingAndGlyphs" stroke="#000" stroke-width="0.22">300</text>
<line x1="187.5" y1="324.85" x2="190.4" y2="324.85" stroke="#000" stroke-width="1.0"/>
<text x="187.4" y="327.55" font-size="6.4" font-weight="bold" text-anchor="end" fill="#000" textLength="9.45" lengthAdjust="spacingAndGlyphs" stroke="#000" stroke-width="0.22">400</text>
<line x1="187.5" y1="315.8125" x2="190.4" y2="315.8125" stroke="#000" stroke-width="1.0"/>
<text x="187.4" y="318.52" font-size="6.4" font-weight="bold" text-anchor="end" fill="#000" textLength="9.45" lengthAdjust="spacingAndGlyphs" stroke="#000" stroke-width="0.22">500</text>
<line x1="187.5" y1="306.775" x2="190.4" y2="306.775" stroke="#000" stroke-width="1.0"/>
<text x="187.4" y="309.48" font-size="6.4" font-weight="bold" text-anchor="end" fill="#000" textLength="9.45" lengthAdjust="spacingAndGlyphs" stroke="#000" stroke-width="0.22">600</text>
<line x1="187.5" y1="297.7375" x2="190.4" y2="297.7375" stroke="#000" stroke-width="1.0"/>
<text x="187.4" y="300.44" font-size="6.4" font-weight="bold" text-anchor="end" fill="#000" textLength="9.45" lengthAdjust="spacingAndGlyphs" stroke="#000" stroke-width="0.22">700</text>
<line x1="187.5" y1="288.7" x2="190.4" y2="288.7" stroke="#000" stroke-width="1.0"/>
<text x="187.4" y="291.4" font-size="6.4" font-weight="bold" text-anchor="end" fill="#000" textLength="9.45" lengthAdjust="spacingAndGlyphs" stroke="#000" stroke-width="0.22">800</text>
<line x1="197.0" y1="361" x2="197.0" y2="362.8" stroke="#000" stroke-width="0.9"/>
<text x="197.0" y="369.6" font-size="6.6" font-weight="bold" text-anchor="middle" fill="#000" textLength="3.25" lengthAdjust="spacingAndGlyphs" stroke="#000" stroke-width="0.3">0</text>
<line x1="210.75" y1="361" x2="210.75" y2="362.8" stroke="#000" stroke-width="0.9"/>
<text x="210.75" y="369.6" font-size="6.6" font-weight="bold" text-anchor="middle" fill="#000" textLength="3.25" lengthAdjust="spacingAndGlyphs" stroke="#000" stroke-width="0.3">7</text>
<line x1="224.5" y1="361" x2="224.5" y2="362.8" stroke="#000" stroke-width="0.9"/>
<text x="224.5" y="369.6" font-size="6.6" font-weight="bold" text-anchor="middle" fill="#000" textLength="6.5" lengthAdjust="spacingAndGlyphs" stroke="#000" stroke-width="0.3">14</text>
<line x1="238.25" y1="361" x2="238.25" y2="362.8" stroke="#000" stroke-width="0.9"/>
<text x="238.25" y="369.6" font-size="6.6" font-weight="bold" text-anchor="middle" fill="#000" textLength="6.5" lengthAdjust="spacingAndGlyphs" stroke="#000" stroke-width="0.3">21</text>
<line x1="252.0" y1="361" x2="252.0" y2="362.8" stroke="#000" stroke-width="0.9"/>
<text x="252.0" y="369.6" font-size="6.6" font-weight="bold" text-anchor="middle" fill="#000" textLength="6.5" lengthAdjust="spacingAndGlyphs" stroke="#000" stroke-width="0.3">28</text>
<line x1="265.75" y1="361" x2="265.75" y2="362.8" stroke="#000" stroke-width="0.9"/>
<text x="265.75" y="369.6" font-size="6.6" font-weight="bold" text-anchor="middle" fill="#000" textLength="6.5" lengthAdjust="spacingAndGlyphs" stroke="#000" stroke-width="0.3">35</text>
<line x1="279.5" y1="361" x2="279.5" y2="362.8" stroke="#000" stroke-width="0.9"/>
<text x="279.5" y="369.6" font-size="6.6" font-weight="bold" text-anchor="middle" fill="#000" textLength="6.5" lengthAdjust="spacingAndGlyphs" stroke="#000" stroke-width="0.3">42</text>
<line x1="293.25" y1="361" x2="293.25" y2="362.8" stroke="#000" stroke-width="0.9"/>
<text x="293.25" y="369.6" font-size="6.6" font-weight="bold" text-anchor="middle" fill="#000" textLength="6.5" lengthAdjust="spacingAndGlyphs" stroke="#000" stroke-width="0.3">49</text>
<line x1="307.0" y1="361" x2="307.0" y2="362.8" stroke="#000" stroke-width="0.9"/>
<text x="307.0" y="369.6" font-size="6.6" font-weight="bold" text-anchor="middle" fill="#000" textLength="6.5" lengthAdjust="spacingAndGlyphs" stroke="#000" stroke-width="0.3">56</text>
<text x="254" y="281.2" font-size="7" font-weight="bold" text-anchor="middle" fill="#000" textLength="41.6" lengthAdjust="spacingAndGlyphs" stroke="#000" stroke-width="0.22">QM-TACI-wt</text>
<text transform="translate(171.7 341.8) rotate(-90)" font-size="7" font-weight="bold" text-anchor="middle" stroke="#000" stroke-width="0.22" textLength="51.6" lengthAdjust="spacingAndGlyphs">NP-specific IgG</text>
<text transform="translate(171.5 295.6) rotate(-90)" font-size="6.7" font-weight="bold" text-anchor="middle" stroke="#000" stroke-width="0.22" textLength="25.8" lengthAdjust="spacingAndGlyphs">(µg/mL)</text>
<circle cx="193.6" cy="360.7" r="1.35"/>
<circle cx="195.3" cy="360.5" r="1.35"/>
<circle cx="197.0" cy="360.5" r="1.35"/>
<circle cx="198.7" cy="360.5" r="1.35"/>
<circle cx="200.4" cy="360.7" r="1.35"/>
<circle cx="207.35" cy="360.7" r="1.35"/>
<circle cx="209.05" cy="360.5" r="1.35"/>
<circle cx="210.75" cy="360.5" r="1.35"/>
<circle cx="212.45" cy="360.5" r="1.35"/>
<circle cx="214.15" cy="360.7" r="1.35"/>
<line x1="219.9" y1="356.6" x2="229.1" y2="356.6" stroke="#000" stroke-width="1.5"/>
<circle cx="222.3" cy="353" r="1.35"/>
<circle cx="226.1" cy="353" r="1.35"/>
<circle cx="223.9" cy="356" r="1.35"/>
<circle cx="225.9" cy="355" r="1.35"/>
<circle cx="221.5" cy="357.6" r="1.35"/>
<circle cx="224.5" cy="358" r="1.35"/>
<circle cx="227.5" cy="357.4" r="1.35"/>
<circle cx="222.9" cy="359.6" r="1.35"/>
<circle cx="226.1" cy="359.6" r="1.35"/>
<line x1="233.65" y1="346.6" x2="242.85" y2="346.6" stroke="#000" stroke-width="1.5"/>
<circle cx="238.05" cy="314.6" r="1.35"/>
<circle cx="238.05" cy="330.6" r="1.35"/>
<circle cx="236.05" cy="334" r="1.35"/>
<circle cx="239.85" cy="337.6" r="1.35"/>
<circle cx="238.05" cy="342.8" r="1.35"/>
<circle cx="236.65" cy="349.4" r="1.35"/>
<circle cx="240.45" cy="348.6" r="1.35"/>
<circle cx="236.05" cy="351.1" r="1.35"/>
<circle cx="236.35" cy="356.4" r="1.35"/>
<circle cx="239.75" cy="356.4" r="1.35"/>
<circle cx="235.75" cy="358.6" r="1.35"/>
<circle cx="240.35" cy="358.6" r="1.35"/>
<circle cx="237.95" cy="360.2" r="1.35"/>
<line x1="247.4" y1="321.6" x2="256.6" y2="321.6" stroke="#000" stroke-width="1.5"/>
<circle cx="251.6" cy="294" r="1.35"/>
<circle cx="250.2" cy="325" r="1.35"/>
<circle cx="253.8" cy="326.5" r="1.35"/>
<circle cx="253.8" cy="330" r="1.35"/>
<circle cx="250.0" cy="333.6" r="1.35"/>
<line x1="261.15" y1="338.5" x2="270.35" y2="338.5" stroke="#000" stroke-width="1.5"/>
<circle cx="265.55" cy="328.6" r="1.35"/>
<circle cx="263.45" cy="336.8" r="1.35"/>
<circle cx="267.75" cy="340" r="1.35"/>
<circle cx="267.35" cy="342.8" r="1.35"/>
<circle cx="263.65" cy="344.8" r="1.35"/>
<line x1="274.9" y1="347" x2="284.1" y2="347" stroke="#000" stroke-width="1.5"/>
<circle cx="279.4" cy="340.3" r="1.35"/>
<circle cx="278.0" cy="349" r="1.35"/>
<circle cx="281.0" cy="349" r="1.35"/>
<circle cx="279.5" cy="349.6" r="1.35"/>
<line x1="288.65" y1="345.6" x2="297.85" y2="345.6" stroke="#000" stroke-width="1.5"/>
<circle cx="293.25" cy="340.6" r="1.35"/>
<circle cx="291.85" cy="347.6" r="1.35"/>
<circle cx="294.65" cy="347.6" r="1.35"/>
<circle cx="293.25" cy="348.2" r="1.35"/>
<line x1="302.4" y1="355" x2="311.6" y2="355" stroke="#000" stroke-width="1.5"/>
<circle cx="303.6" cy="354" r="1.35"/>
<circle cx="307.0" cy="354" r="1.35"/>
<circle cx="305.0" cy="356.4" r="1.35"/>
<circle cx="309.0" cy="355.6" r="1.35"/>
<line x1="345.6" y1="288.2" x2="345.6" y2="361.6" stroke="#000" stroke-width="1.0"/>
<line x1="342.70000000000005" y1="361" x2="469.2" y2="361" stroke="#1a1a1a" stroke-width="0.95"/>
<line x1="342.70000000000005" y1="361.0" x2="345.6" y2="361.0" stroke="#000" stroke-width="1.0"/>
<text x="342.6" y="363.7" font-size="6.4" font-weight="bold" text-anchor="end" fill="#000" textLength="3.15" lengthAdjust="spacingAndGlyphs" stroke="#000" stroke-width="0.22">0</text>
<line x1="342.70000000000005" y1="351.9625" x2="345.6" y2="351.9625" stroke="#000" stroke-width="1.0"/>
<text x="342.6" y="354.67" font-size="6.4" font-weight="bold" text-anchor="end" fill="#000" textLength="9.45" lengthAdjust="spacingAndGlyphs" stroke="#000" stroke-width="0.22">100</text>
<line x1="342.70000000000005" y1="342.925" x2="345.6" y2="342.925" stroke="#000" stroke-width="1.0"/>
<text x="342.6" y="345.63" font-size="6.4" font-weight="bold" text-anchor="end" fill="#000" textLength="9.45" lengthAdjust="spacingAndGlyphs" stroke="#000" stroke-width="0.22">200</text>
<line x1="342.70000000000005" y1="333.8875" x2="345.6" y2="333.8875" stroke="#000" stroke-width="1.0"/>
<text x="342.6" y="336.59" font-size="6.4" font-weight="bold" text-anchor="end" fill="#000" textLength="9.45" lengthAdjust="spacingAndGlyphs" stroke="#000" stroke-width="0.22">300</text>
<line x1="342.70000000000005" y1="324.85" x2="345.6" y2="324.85" stroke="#000" stroke-width="1.0"/>
<text x="342.6" y="327.55" font-size="6.4" font-weight="bold" text-anchor="end" fill="#000" textLength="9.45" lengthAdjust="spacingAndGlyphs" stroke="#000" stroke-width="0.22">400</text>
<line x1="342.70000000000005" y1="315.8125" x2="345.6" y2="315.8125" stroke="#000" stroke-width="1.0"/>
<text x="342.6" y="318.52" font-size="6.4" font-weight="bold" text-anchor="end" fill="#000" textLength="9.45" lengthAdjust="spacingAndGlyphs" stroke="#000" stroke-width="0.22">500</text>
<line x1="342.70000000000005" y1="306.775" x2="345.6" y2="306.775" stroke="#000" stroke-width="1.0"/>
<text x="342.6" y="309.48" font-size="6.4" font-weight="bold" text-anchor="end" fill="#000" textLength="9.45" lengthAdjust="spacingAndGlyphs" stroke="#000" stroke-width="0.22">600</text>
<line x1="342.70000000000005" y1="297.7375" x2="345.6" y2="297.7375" stroke="#000" stroke-width="1.0"/>
<text x="342.6" y="300.44" font-size="6.4" font-weight="bold" text-anchor="end" fill="#000" textLength="9.45" lengthAdjust="spacingAndGlyphs" stroke="#000" stroke-width="0.22">700</text>
<line x1="342.70000000000005" y1="288.7" x2="345.6" y2="288.7" stroke="#000" stroke-width="1.0"/>
<text x="342.6" y="291.4" font-size="6.4" font-weight="bold" text-anchor="end" fill="#000" textLength="9.45" lengthAdjust="spacingAndGlyphs" stroke="#000" stroke-width="0.22">800</text>
<line x1="352.5" y1="361" x2="352.5" y2="362.8" stroke="#000" stroke-width="0.9"/>
<text x="352.5" y="369.6" font-size="6.6" font-weight="bold" text-anchor="middle" fill="#000" textLength="3.25" lengthAdjust="spacingAndGlyphs" stroke="#000" stroke-width="0.3">0</text>
<line x1="366.28" y1="361" x2="366.28" y2="362.8" stroke="#000" stroke-width="0.9"/>
<text x="366.28" y="369.6" font-size="6.6" font-weight="bold" text-anchor="middle" fill="#000" textLength="3.25" lengthAdjust="spacingAndGlyphs" stroke="#000" stroke-width="0.3">7</text>
<line x1="380.06" y1="361" x2="380.06" y2="362.8" stroke="#000" stroke-width="0.9"/>
<text x="380.06" y="369.6" font-size="6.6" font-weight="bold" text-anchor="middle" fill="#000" textLength="6.5" lengthAdjust="spacingAndGlyphs" stroke="#000" stroke-width="0.3">14</text>
<line x1="393.84" y1="361" x2="393.84" y2="362.8" stroke="#000" stroke-width="0.9"/>
<text x="393.84" y="369.6" font-size="6.6" font-weight="bold" text-anchor="middle" fill="#000" textLength="6.5" lengthAdjust="spacingAndGlyphs" stroke="#000" stroke-width="0.3">21</text>
<line x1="407.62" y1="361" x2="407.62" y2="362.8" stroke="#000" stroke-width="0.9"/>
<text x="407.62" y="369.6" font-size="6.6" font-weight="bold" text-anchor="middle" fill="#000" textLength="6.5" lengthAdjust="spacingAndGlyphs" stroke="#000" stroke-width="0.3">28</text>
<line x1="421.4" y1="361" x2="421.4" y2="362.8" stroke="#000" stroke-width="0.9"/>
<text x="421.4" y="369.6" font-size="6.6" font-weight="bold" text-anchor="middle" fill="#000" textLength="6.5" lengthAdjust="spacingAndGlyphs" stroke="#000" stroke-width="0.3">35</text>
<line x1="435.18" y1="361" x2="435.18" y2="362.8" stroke="#000" stroke-width="0.9"/>
<text x="435.18" y="369.6" font-size="6.6" font-weight="bold" text-anchor="middle" fill="#000" textLength="6.5" lengthAdjust="spacingAndGlyphs" stroke="#000" stroke-width="0.3">42</text>
<line x1="448.96" y1="361" x2="448.96" y2="362.8" stroke="#000" stroke-width="0.9"/>
<text x="448.96" y="369.6" font-size="6.6" font-weight="bold" text-anchor="middle" fill="#000" textLength="6.5" lengthAdjust="spacingAndGlyphs" stroke="#000" stroke-width="0.3">49</text>
<line x1="462.74" y1="361" x2="462.74" y2="362.8" stroke="#000" stroke-width="0.9"/>
<text x="462.74" y="369.6" font-size="6.6" font-weight="bold" text-anchor="middle" fill="#000" textLength="6.5" lengthAdjust="spacingAndGlyphs" stroke="#000" stroke-width="0.3">56</text>
<text x="408.8" y="282.6" font-size="7" font-weight="bold" text-anchor="middle" fill="#000" textLength="41.6" lengthAdjust="spacingAndGlyphs" stroke="#000" stroke-width="0.22">QM-TACI-ko</text>
<text transform="translate(327.5 342.2) rotate(-90)" font-size="7" font-weight="bold" text-anchor="middle" stroke="#000" stroke-width="0.22" textLength="52.2" lengthAdjust="spacingAndGlyphs">NP-specific IgG</text>
<text transform="translate(327.3 295.4) rotate(-90)" font-size="6.7" font-weight="bold" text-anchor="middle" stroke="#000" stroke-width="0.22" textLength="26.2" lengthAdjust="spacingAndGlyphs">(µg/mL)</text>
<circle cx="349.1" cy="360.7" r="1.35"/>
<circle cx="350.8" cy="360.5" r="1.35"/>
<circle cx="352.5" cy="360.5" r="1.35"/>
<circle cx="354.2" cy="360.5" r="1.35"/>
<circle cx="355.9" cy="360.7" r="1.35"/>
<circle cx="362.88" cy="360.7" r="1.35"/>
<circle cx="364.58" cy="360.5" r="1.35"/>
<circle cx="366.28" cy="360.5" r="1.35"/>
<circle cx="367.98" cy="360.5" r="1.35"/>
<circle cx="369.68" cy="360.7" r="1.35"/>
<line x1="375.46" y1="352.4" x2="384.66" y2="352.4" stroke="#000" stroke-width="1.5"/>
<circle cx="380.46" cy="333" r="1.35"/>
<circle cx="376.26" cy="345.2" r="1.35"/>
<circle cx="379.76" cy="344" r="1.35"/>
<circle cx="380.96" cy="346.5" r="1.35"/>
<circle cx="382.06" cy="348.3" r="1.35"/>
<circle cx="378.56" cy="350" r="1.35"/>
<circle cx="378.06" cy="354.6" r="1.35"/>
<circle cx="379.76" cy="355.8" r="1.35"/>
<circle cx="381.46" cy="356.3" r="1.35"/>
<circle cx="378.06" cy="358" r="1.35"/>
<circle cx="380.96" cy="358.6" r="1.35"/>
<circle cx="376.66" cy="360.3" r="1.35"/>
<circle cx="379.56" cy="360.6" r="1.35"/>
<circle cx="382.06" cy="360.4" r="1.35"/>
<line x1="389.24" y1="337.7" x2="398.44" y2="337.7" stroke="#000" stroke-width="1.5"/>
<circle cx="393.64" cy="300.4" r="1.35"/>
<circle cx="392.04" cy="312.2" r="1.35"/>
<circle cx="395.44" cy="312.2" r="1.35"/>
<circle cx="393.64" cy="320" r="1.35"/>
<circle cx="392.04" cy="329" r="1.35"/>
<circle cx="395.44" cy="332.6" r="1.35"/>
<circle cx="394.04" cy="341.6" r="1.35"/>
<circle cx="393.64" cy="346" r="1.35"/>
<circle cx="394.04" cy="350" r="1.35"/>
<circle cx="392.04" cy="353" r="1.35"/>
<circle cx="395.44" cy="354" r="1.35"/>
<circle cx="392.04" cy="359.6" r="1.35"/>
<circle cx="395.04" cy="360" r="1.35"/>
<line x1="403.02" y1="316.6" x2="412.22" y2="316.6" stroke="#000" stroke-width="1.5"/>
<circle cx="407.42" cy="305.4" r="1.35"/>
<circle cx="407.42" cy="312" r="1.35"/>
<circle cx="407.42" cy="319" r="1.35"/>
<circle cx="407.42" cy="330.6" r="1.35"/>
<line x1="416.8" y1="325.5" x2="426.0" y2="325.5" stroke="#000" stroke-width="1.5"/>
<circle cx="421.4" cy="307.6" r="1.35"/>
<circle cx="421.4" cy="321.2" r="1.35"/>
<circle cx="421.4" cy="332.2" r="1.35"/>
<circle cx="421.4" cy="339.6" r="1.35"/>
<line x1="430.58" y1="345.5" x2="439.78" y2="345.5" stroke="#000" stroke-width="1.5"/>
<circle cx="434.98" cy="341.2" r="1.35"/>
<circle cx="433.58" cy="346.8" r="1.35"/>
<circle cx="436.58" cy="346.5" r="1.35"/>
<circle cx="434.98" cy="348.6" r="1.35"/>
<line x1="444.36" y1="338.6" x2="453.56" y2="338.6" stroke="#000" stroke-width="1.5"/>
<circle cx="448.56" cy="329" r="1.35"/>
<circle cx="448.56" cy="335.6" r="1.35"/>
<circle cx="446.96" cy="346" r="1.35"/>
<circle cx="450.56" cy="344.6" r="1.35"/>
<line x1="458.14" y1="353.6" x2="467.34" y2="353.6" stroke="#000" stroke-width="1.5"/>
<circle cx="462.44" cy="350.6" r="1.35"/>
<circle cx="461.04" cy="354.4" r="1.35"/>
<circle cx="464.04" cy="354" r="1.35"/>
<circle cx="462.44" cy="356.4" r="1.35"/>
<text x="327" y="385" font-size="7.3" font-weight="bold" text-anchor="middle" fill="#000" textLength="84.8" lengthAdjust="spacingAndGlyphs" stroke="#000" stroke-width="0.22">Days post-immunization</text>
</svg></body></html>
